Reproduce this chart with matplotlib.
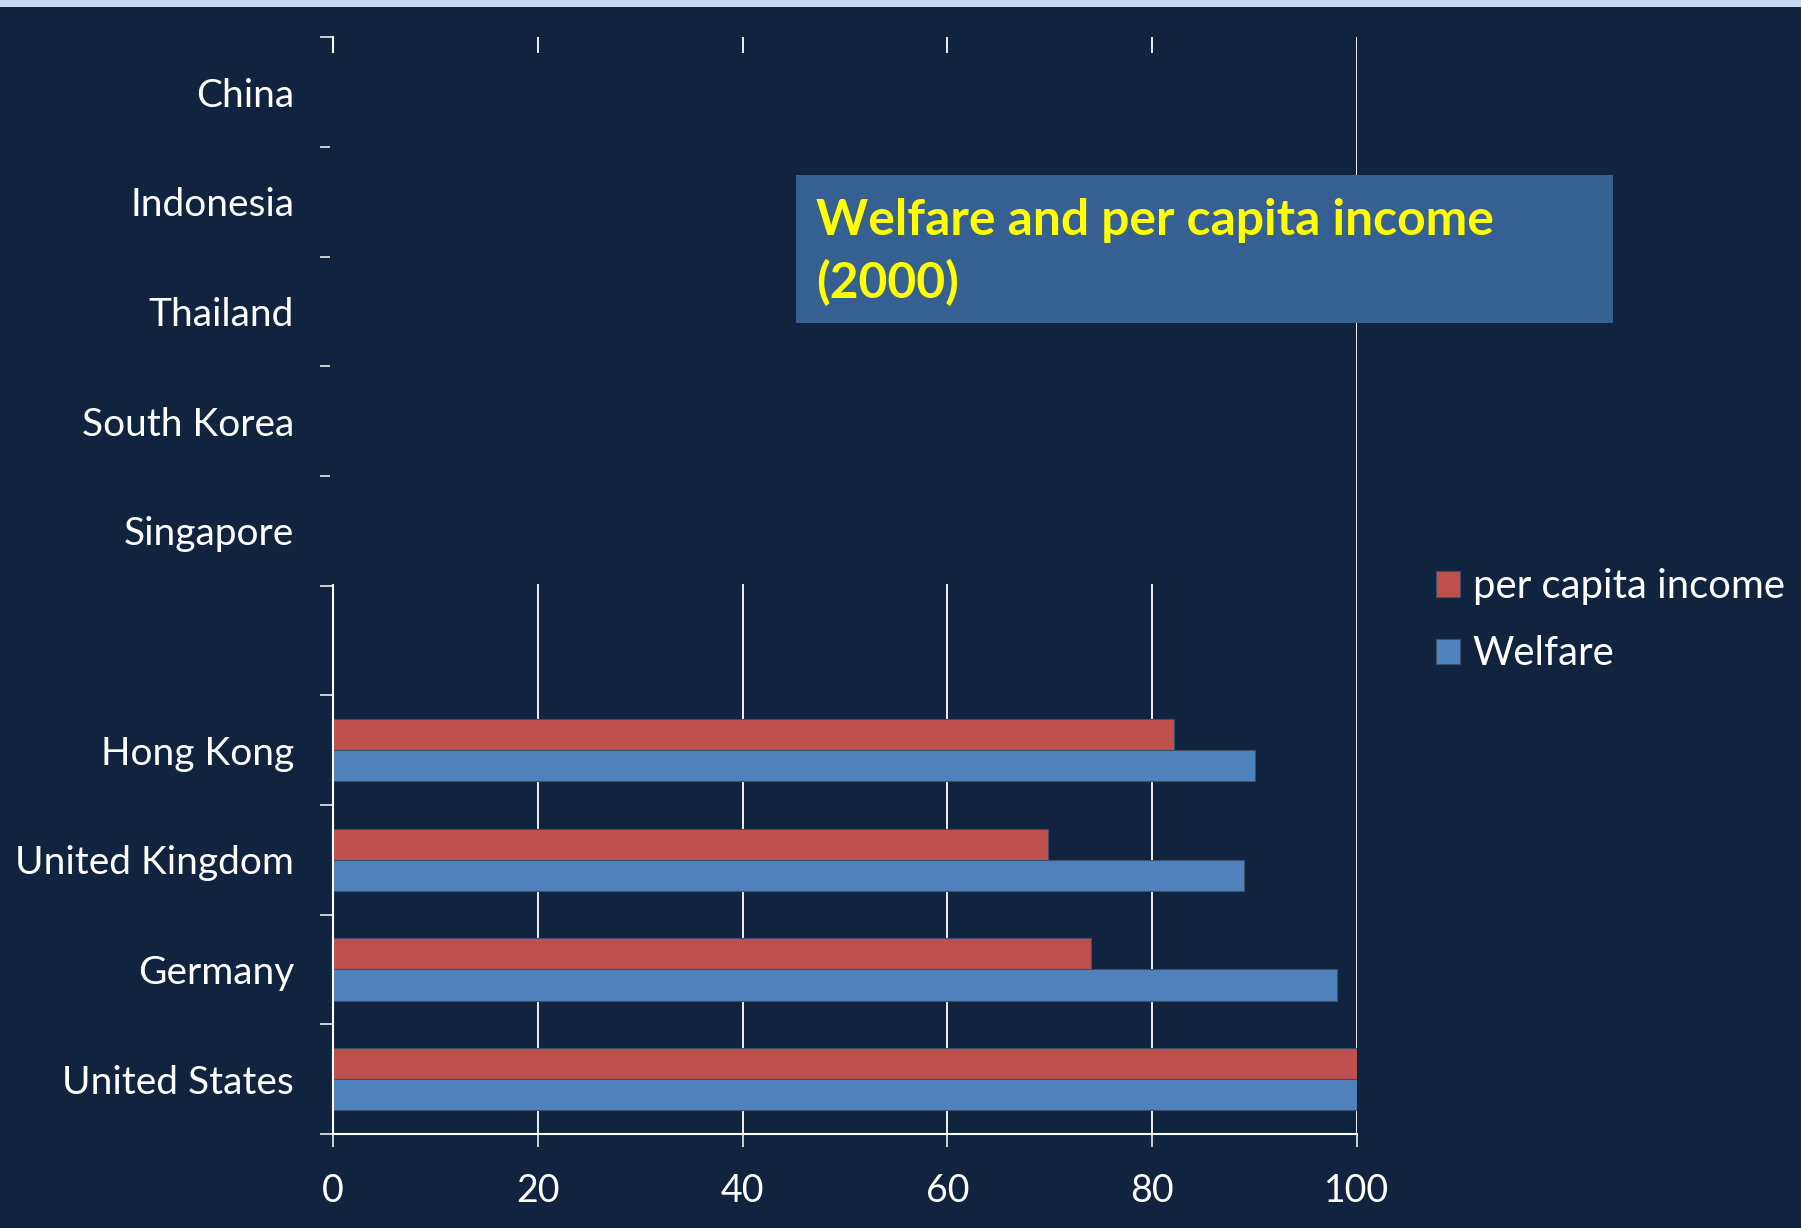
import numpy as np
import matplotlib as mpl
import matplotlib.pyplot as plt
from matplotlib.patches import Rectangle

# Index values (United States = 100), year 2000
countries = ["China", "Indonesia", "Thailand", "South Korea", "Singapore", "",
             "Hong Kong", "United Kingdom", "Germany", "United States"]
income = [np.nan, np.nan, np.nan, np.nan, np.nan, np.nan, 82.1, 69.8, 74.0, 100.0]
welfare = [np.nan, np.nan, np.nan, np.nan, np.nan, np.nan, 90.0, 89.0, 98.0, 100.0]
x_ticks = [0, 20, 40, 60, 80, 100]

BG = "#10243f"
STRIP = "#c6d9f1"
RED = "#c0504d"
BLUE = "#4f81bd"
BOX = "#366092"

mpl.rcParams.update({
    "font.family": ["Lato", "DejaVu Sans"],
    "figure.facecolor": BG,
    "axes.facecolor": BG,
})

fig = plt.figure(figsize=(18.01, 12.28), dpi=100)
ax = fig.add_axes([0.1849, 0.07655, 0.56857, 0.89308])

# light band along the top edge
fig.patches.append(Rectangle((0, 1 - 7 / 1228), 1, 7 / 1228, transform=fig.transFigure,
                             facecolor=STRIP, edgecolor="none", zorder=0))

y = np.arange(len(countries))
h = 0.283
ax.barh(y - h / 2, income, height=h, color=RED, edgecolor="#3d4f6a", linewidth=0.8,
        label="per capita income", zorder=2)
ax.barh(y + h / 2, welfare, height=h, color=BLUE, edgecolor="#3d4f6a", linewidth=0.8,
        label="Welfare", zorder=2)

ax.set_xlim(0, 100)
ax.set_ylim(len(countries) - 0.5, -0.5)

ax.set_xticks(x_ticks)
ax.set_xticklabels([str(t) for t in x_ticks])
ax.set_yticks(np.arange(len(countries) + 1) - 0.5)
ax.set_yticklabels([])
ax.set_yticks(y, minor=True)
ax.set_yticklabels(countries, minor=True)

ax.tick_params(axis="y", which="major", length=9.4, width=1.1, color="white", direction="out")
ax.tick_params(axis="y", which="minor", length=0, pad=28, labelsize=28, labelcolor="white")
ax.tick_params(axis="x", length=9.4, width=1.1, color="white", direction="out",
               pad=19, labelsize=27, labelcolor="white")

ax.grid(axis="x", color="white", linewidth=1.3, zorder=1)
ax.set_axisbelow(True)
for side in ["top", "right"]:
    ax.spines[side].set_visible(False)
for side in ["left", "bottom"]:
    ax.spines[side].set_color("white")
    ax.spines[side].set_linewidth(1.5)

# panel over the upper half of the plot, leaving the 100 line in view
ax.add_patch(Rectangle((-0.25, -0.357), 99.95, 4.84, facecolor=BG, edgecolor="none",
                       zorder=3, clip_on=False))

# title box
fig.patches.append(Rectangle((0.4420, 0.73697), 0.4536, 0.12052, transform=fig.transFigure,
                             facecolor=BOX, edgecolor="none", zorder=4))
fig.text(0.4531, 0.80863, "Welfare and per capita income", fontsize=35.8, fontweight="bold",
         color="#ffff00", va="baseline", ha="left", zorder=5)
fig.text(0.4531, 0.75733, "(2000)", fontsize=35.8, fontweight="bold",
         color="#ffff00", va="baseline", ha="left", zorder=5)

fig.legend(loc="upper left", bbox_to_anchor=(0.7973, 0.5375), frameon=False,
           fontsize=28.8, labelcolor="white", handlelength=0.6, handleheight=0.6,
           handletextpad=0.32, labelspacing=0.76, borderpad=0, borderaxespad=0)

fig.savefig("out.png", dpi=100, facecolor=BG)
